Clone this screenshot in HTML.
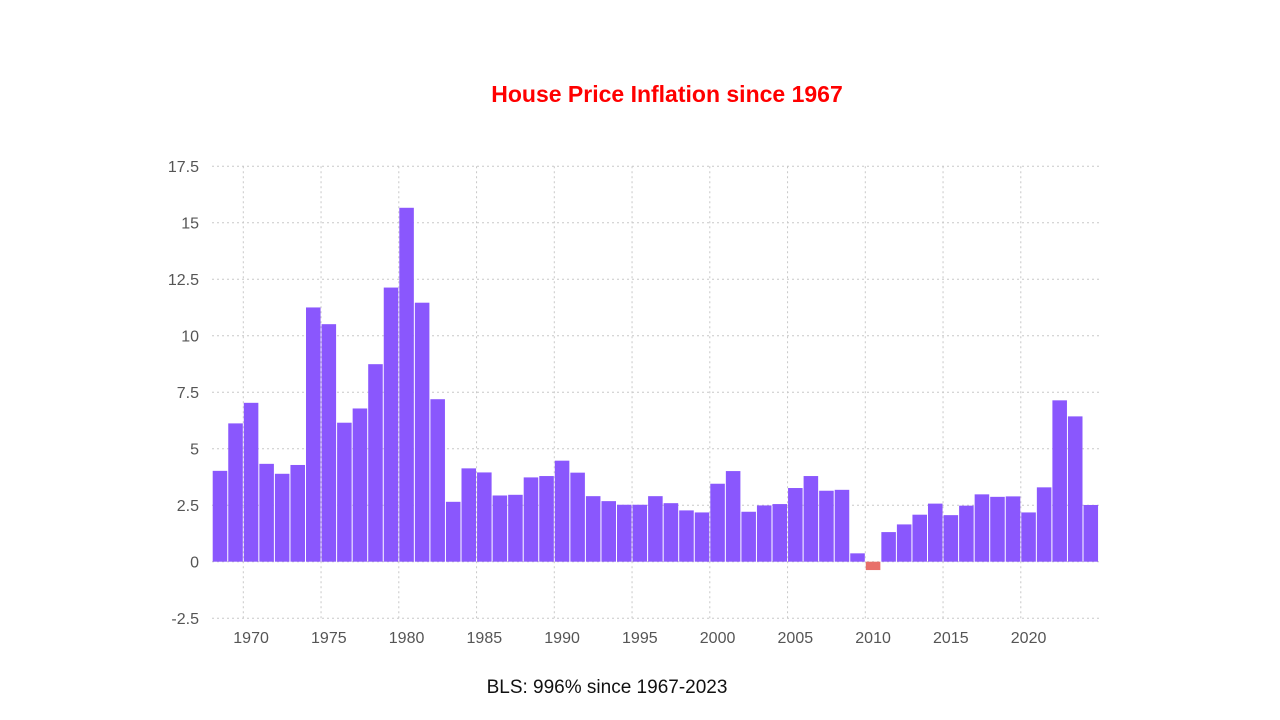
<!DOCTYPE html>
<html><head><meta charset="utf-8"><style>
body{margin:0;background:#fff;width:1280px;height:720px;overflow:hidden;font-family:"Liberation Sans",sans-serif}
svg{position:absolute;left:0;top:0}
</style></head><body>
<svg width="1280" height="720">
<text x="667" y="102" text-anchor="middle" font-size="23" font-weight="bold" fill="#ff0000">House Price Inflation since 1967</text>
<text x="607" y="693" text-anchor="middle" font-size="19" fill="#111">BLS: 996% since 1967-2023</text>
<g id="grid"></g><g id="bars"></g><g id="axes"></g>
</svg>
<script>
const years=[];for(let y=1968;y<=2024;y++)years.push(y);
const values=[4.02,6.12,7.03,4.33,3.89,4.28,11.25,10.51,6.15,6.78,8.74,12.13,15.66,11.46,7.19,2.65,4.13,3.95,2.93,2.96,3.73,3.79,4.47,3.94,2.90,2.68,2.52,2.52,2.90,2.59,2.27,2.18,3.45,4.01,2.21,2.49,2.55,3.26,3.79,3.14,3.18,0.37,-0.37,1.31,1.65,2.08,2.57,2.06,2.48,2.98,2.87,2.89,2.18,3.29,7.14,6.43,2.51];
const yTicks=[-2.5,0,2.5,5,7.5,10,12.5,15,17.5];
const yTickLabels=["-2.5","0","2.5","5","7.5","10","12.5","15","17.5"];
const xTicks=[1970,1975,1980,1985,1990,1995,2000,2005,2010,2015,2020];
const NS="http://www.w3.org/2000/svg";
const bw=15.55;
const xs=y=>243.3+(y-1970)*bw;
const ys=v=>561.7-v*22.6;
function mk(t,a,p){const e=document.createElementNS(NS,t);for(const k in a)e.setAttribute(k,a[k]);p.appendChild(e);return e;}
const g=document.getElementById('grid'),b=document.getElementById('bars'),ax=document.getElementById('axes');
yTicks.forEach((v,i)=>{
 const l=mk('line',{x1:212,x2:1099,y1:ys(v),y2:ys(v),stroke:'#c8c8c8','stroke-dasharray':'2,3','stroke-width':1},g);
 
 
 const t=mk('text',{x:199,y:ys(v)+6,'text-anchor':'end','font-size':16,fill:'#555'},ax);
 t.textContent=yTickLabels[i];
 
 
});
xTicks.forEach(y=>{
 const l=mk('line',{x1:xs(y),x2:xs(y),y1:ys(17.5),y2:ys(-2.5),stroke:'#c8c8c8','stroke-dasharray':'2,3','stroke-width':1},g);
 
 
 const t=mk('text',{x:xs(y)+bw/2,y:643,'text-anchor':'middle','font-size':16,fill:'#555'},ax);
 t.textContent=y;
 
 
});
years.forEach((y,i)=>{
 const v=values[i];const top=Math.min(ys(v),ys(0));const h=Math.abs(ys(v)-ys(0));
 const r=mk('rect',{x:xs(y)-bw+0.5,y:top,width:bw-1,height:h,fill:v<0?'#e8706a':'#8a57fd'},b);
 r.setAttribute('x',xs(y)+0.5);
 
 
});
</script>
</body></html>
